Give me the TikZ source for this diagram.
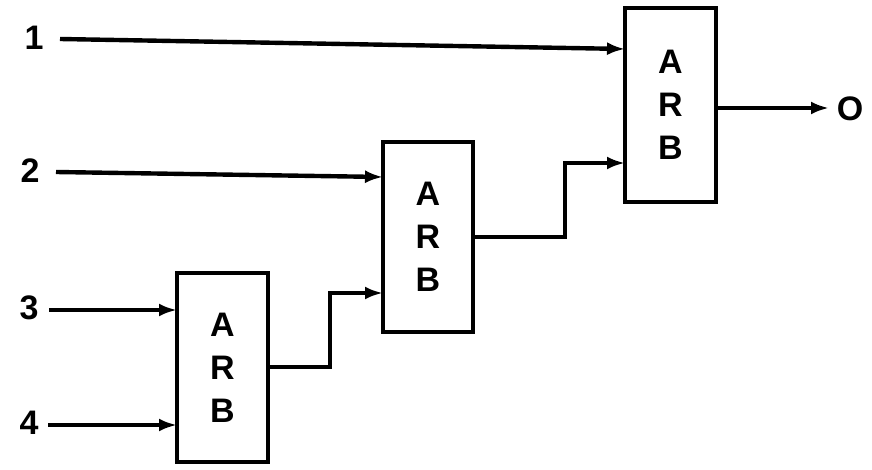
\documentclass[tikz,border=0pt]{standalone}
\usepackage{fontspec}
\setmainfont{Liberation Sans}
\usetikzlibrary{arrows.meta}
\begin{document}
\begin{tikzpicture}[x=1pt,y=-1pt,
  wire/.style={line width=4.4pt, line join=miter},
  arr/.style={wire, -{Latex[length=18pt,width=13pt]}},
  arbbox/.style={draw, line width=4.4pt, minimum width=91pt, align=center,
    font=\fontsize{34}{43}\selectfont\bfseries, inner sep=0pt},
  lbl/.style={font=\fontsize{34}{34}\selectfont\bfseries, inner sep=0pt}]
\useasboundingbox (0,0) rectangle (872,470);
% boxes
\node[arbbox, minimum height=194pt] (b3) at (670.5,105) {A\\R\\B};
\node[arbbox, minimum height=190pt, minimum width=90pt] (b2) at (428,237) {A\\R\\B};
\node[arbbox, minimum height=189pt] (b1) at (222.5,367.5) {A\\R\\B};
% labels
\node[lbl] (l1) at (34,38) {1};
\node[lbl] (l2) at (30,171) {2};
\node[lbl] (l3) at (29,308) {3};
\node[lbl] (l4) at (29,423) {4};
\node[lbl] (out) at (850,109) {O};
% ports
\coordinate (s1) at (60,39);
\coordinate (s2) at (56,172);
\coordinate (s3) at (49,310);
\coordinate (s4) at (48,425);
\coordinate (b3i1) at (625,49);
\coordinate (b3i2) at (625,163);
\coordinate (b2i1) at (383,177);
\coordinate (b2i2) at (383,293);
\coordinate (b1i1) at (177,310);
\coordinate (b1i2) at (177,425);
\coordinate (b1o) at (268,367);
\coordinate (b2o) at (473,237);
\coordinate (b3o) at (716,108);
\coordinate (oe) at (829,108);
% connectors
\draw[arr] (s1) -- (b3i1);
\draw[arr] (s2) -- (b2i1);
\draw[arr] (s3) -- (b1i1);
\draw[arr] (s4) -- (b1i2);
\draw[arr] (b1o) -- (330,367) -- (330,293) -- (b2i2);
\draw[arr] (b2o) -- (565,237) -- (565,163) -- (b3i2);
\draw[arr] (b3o) -- (oe);
\end{tikzpicture}
\end{document}
